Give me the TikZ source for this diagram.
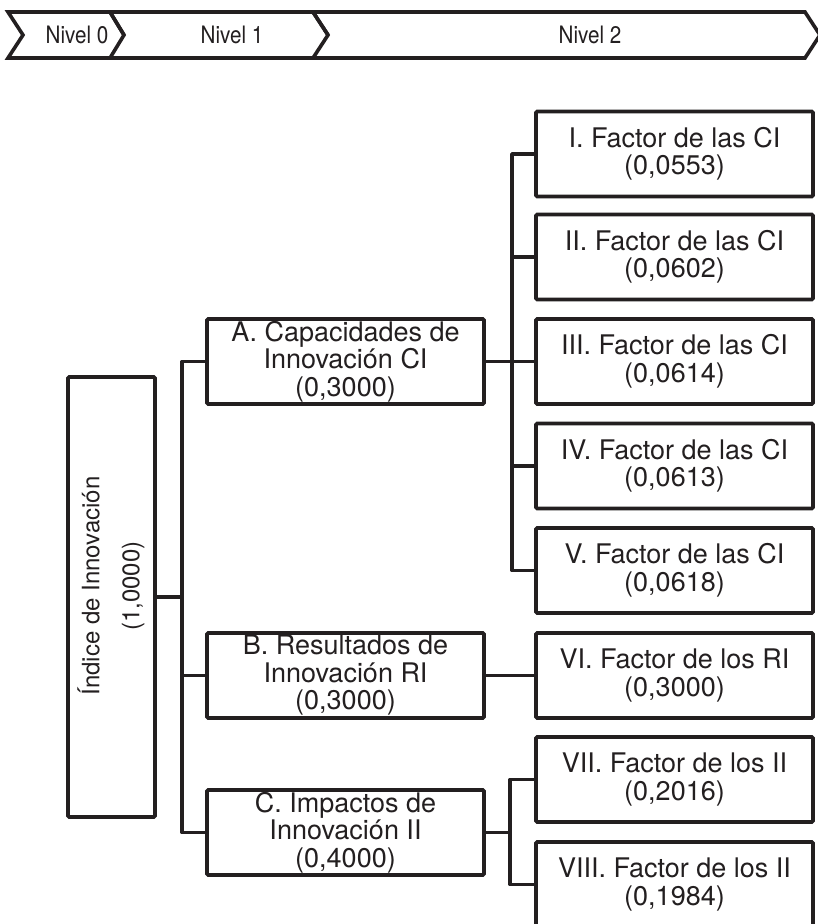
\documentclass[tikz,border=0pt]{standalone}
\usepackage{fontspec}
\setmainfont{TeX Gyre Heros}
\newfontfamily\narrowsans[FakeStretch=0.86]{TeX Gyre Heros}
\definecolor{ink}{HTML}{231F20}
\begin{document}
\begin{tikzpicture}[x=1pt,y=-1pt,
  line width=3.6pt, draw=ink, text=ink,
  box/.style={draw, rounded corners=1.2pt, minimum width=277pt, minimum height=85pt,
    inner sep=0pt, align=center, font=\fontsize{27}{27.5}\selectfont},
  level/.style={font=\narrowsans\fontsize{24}{26}\selectfont, inner sep=0pt},
  wire/.style={line join=round}]
\useasboundingbox (0,0) rectangle (818,924);

% header chevrons
\draw[line join=miter] (8,12) -- (110,12) -- (124,35) -- (110,58) -- (8,58) -- (23,35) -- cycle;
\draw[line join=miter] (124,35) -- (110,12) -- (313,12) -- (328,35) -- (313,58) -- (110,58);
\draw[line join=miter] (328,35) -- (313,12) -- (805,12) -- (820,35) -- (805,58) -- (313,58);
\node[level] (n0) at (77,35) {Nivel 0};
\node[level] (n1) at (232,35) {Nivel 1};
\node[level] (n2) at (590,35) {Nivel 2};

% level 0
\node[draw, rounded corners=1.2pt, minimum width=87pt, minimum height=440pt, inner sep=0pt]
  (main) at (111.5,597) {};
\node[rotate=90, align=center, inner sep=0pt, font=\fontsize{24}{40}\selectfont]
  (maintext) at (111,586) {Índice de Innovación\\(1,0000)};

% level 1
\node[box] (A) at (345.5,361.5) {A. Capacidades de\\Innovación CI\\(0,3000)};
\node[box] (B) at (345.5,675.5) {B. Resultados de\\Innovación RI\\(0,3000)};
\node[box] (C) at (345.5,832.5) {C. Impactos de\\Innovación II\\(0,4000)};

% level 2
\node[box] (f1) at (674.5,154)   {I. Factor de las CI\\(0,0553)};
\node[box] (f2) at (674.5,257)   {II. Factor de las CI\\(0,0602)};
\node[box] (f3) at (674.5,361.5) {III. Factor de las CI\\(0,0614)};
\node[box] (f4) at (674.5,466)   {IV. Factor de las CI\\(0,0613)};
\node[box] (f5) at (674.5,570.5) {V. Factor de las CI\\(0,0618)};
\node[box] (f6) at (674.5,675.5) {VI. Factor de los RI\\(0,3000)};
\node[box] (f7) at (674.5,779.5) {VII. Factor de los II\\(0,2016)};
\node[box] (f8) at (674.5,884.5) {VIII. Factor de los II\\(0,1984)};

% junction points of the brackets
\coordinate (jm) at (182,597);
\coordinate (ja) at (512,361.5);
\coordinate (jc) at (510,832.5);

% connectors
\draw[wire] (main.east) -- (jm);
\draw[wire] (A.west) -| (jm) |- (C.west);
\draw[wire] (B.west) -- (B.west -| jm);

\draw[wire] (A.east) -- (f3.west);
\draw[wire] (f1.west) -| (ja) |- (f5.west);
\draw[wire] (f2.west) -- (f2.west -| ja);
\draw[wire] (f4.west) -- (f4.west -| ja);

\draw[wire] (B.east) -- (f6.west);

\draw[wire] (C.east) -- (jc);
\draw[wire] (f7.west) -| (jc) |- (f8.west);
\end{tikzpicture}
\end{document}
